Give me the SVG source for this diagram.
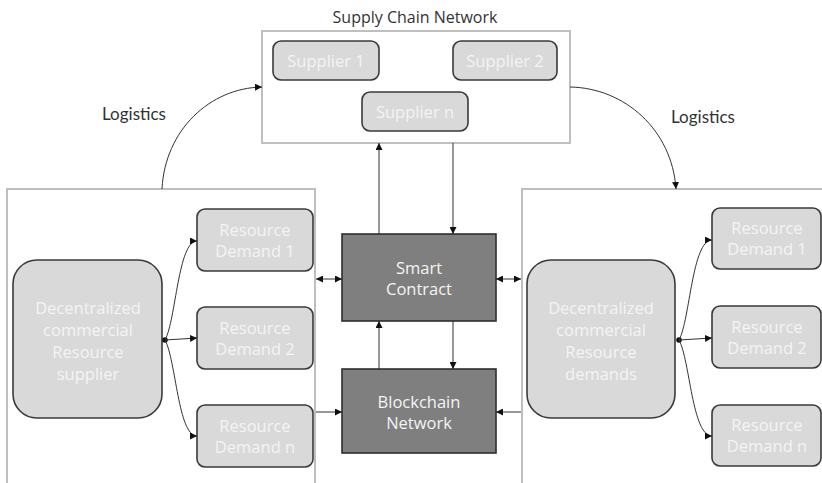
<svg xmlns="http://www.w3.org/2000/svg" width="822" height="483" viewBox="0 0 822 483">
<defs>
<marker id="ah" viewBox="0 0 10 10" refX="10" refY="5" markerWidth="7" markerHeight="7" orient="auto-start-reverse" markerUnits="userSpaceOnUse">
<path d="M0,0 L10,5 L0,10 z" fill="#111"/>
</marker>
<style>
.outer{fill:#fff;stroke:#bfbfbf;stroke-width:2}
.lt{fill:#d9d9d9;stroke:#3a3a3a;stroke-width:1.6}
.dk{fill:#7f7f7f;stroke:#2e2e2e;stroke-width:1.6}
.wt{font-family:"Open Sans","DejaVu Sans",sans-serif;font-size:16.5px;fill:#f4f4f4;text-anchor:middle}
.lbl{font-family:"Open Sans","DejaVu Sans",sans-serif;font-size:16px;fill:#333;text-anchor:middle}
.log{font-family:Lato,"Liberation Sans",sans-serif;font-size:17px;fill:#333;text-anchor:middle}
.cn{fill:none;stroke:#333;stroke-width:1}
</style>
</defs>
<rect width="822" height="483" fill="#fff"/>

<g id="supply-chain-network">
<rect class="outer" x="262" y="31" width="308" height="112"/>
<text class="lbl" x="415" y="23">Supply Chain Network</text>
</g>
<g id="supplier-1"><rect class="lt" x="273" y="41" width="106" height="39" rx="8"/><text class="wt" x="326" y="67">Supplier 1</text></g>
<g id="supplier-2"><rect class="lt" x="453" y="41" width="104" height="39" rx="8"/><text class="wt" x="505" y="67">Supplier 2</text></g>
<g id="supplier-n"><rect class="lt" x="362" y="92" width="106" height="39" rx="8"/><text class="wt" x="415" y="118">Supplier n</text></g>

<g id="left-region"><rect class="outer" x="7" y="189" width="308" height="300"/></g>
<g id="right-region"><rect class="outer" x="522" y="189" width="310" height="300"/></g>

<g id="resource-supplier"><rect class="lt" x="13" y="260" width="149" height="158" rx="24"/>
<text class="wt" x="88" y="314">Decentralized</text>
<text class="wt" x="88" y="336">commercial</text>
<text class="wt" x="88" y="358">Resource</text>
<text class="wt" x="88" y="380">supplier</text></g>

<g id="left-demand-1"><rect class="lt" x="197" y="209" width="116" height="62" rx="8"/><text class="wt" x="255" y="236">Resource</text><text class="wt" x="255" y="257">Demand 1</text></g>
<g id="left-demand-2"><rect class="lt" x="197" y="307" width="116" height="62" rx="8"/><text class="wt" x="255" y="334">Resource</text><text class="wt" x="255" y="355">Demand 2</text></g>
<g id="left-demand-n"><rect class="lt" x="197" y="405" width="116" height="62" rx="8"/><text class="wt" x="255" y="432">Resource</text><text class="wt" x="255" y="453">Demand n</text></g>

<g id="resource-demands"><rect class="lt" x="527" y="260" width="148" height="158" rx="24"/>
<text class="wt" x="601" y="314">Decentralized</text>
<text class="wt" x="601" y="336">commercial</text>
<text class="wt" x="601" y="358">Resource</text>
<text class="wt" x="601" y="380">demands</text></g>

<g id="right-demand-1"><rect class="lt" x="712" y="208" width="109" height="61" rx="8"/><text class="wt" x="767" y="234">Resource</text><text class="wt" x="767" y="255">Demand 1</text></g>
<g id="right-demand-2"><rect class="lt" x="712" y="306" width="109" height="62" rx="8"/><text class="wt" x="767" y="333">Resource</text><text class="wt" x="767" y="354">Demand 2</text></g>
<g id="right-demand-n"><rect class="lt" x="712" y="405" width="109" height="61" rx="8"/><text class="wt" x="767" y="431">Resource</text><text class="wt" x="767" y="452">Demand n</text></g>

<g id="smart-contract"><rect class="dk" x="342" y="234" width="154" height="87"/><text class="wt" x="419" y="274">Smart</text><text class="wt" x="419" y="295">Contract</text></g>
<g id="blockchain-network"><rect class="dk" x="342" y="369" width="154" height="84"/><text class="wt" x="419" y="408">Blockchain</text><text class="wt" x="419" y="429">Network</text></g>

<g id="connectors">
<path class="cn" d="M162,189 C165,130 210,88 262,87" marker-end="url(#ah)"/>
<path class="cn" d="M570,87 C625,88 672,130 676,189" marker-end="url(#ah)"/>
<text class="log" x="134" y="120">Logistics</text>
<text class="log" x="703" y="123">Logistics</text>

<line class="cn" x1="379" y1="234" x2="379" y2="143" marker-end="url(#ah)"/>
<line class="cn" x1="453" y1="143" x2="453" y2="234" marker-end="url(#ah)"/>
<line class="cn" x1="379" y1="369" x2="379" y2="321" marker-end="url(#ah)"/>
<line class="cn" x1="453" y1="321" x2="453" y2="369" marker-end="url(#ah)"/>
<line class="cn" x1="316" y1="279" x2="342" y2="279" marker-start="url(#ah)" marker-end="url(#ah)"/>
<line class="cn" x1="496" y1="279" x2="521" y2="279" marker-start="url(#ah)" marker-end="url(#ah)"/>
<line class="cn" x1="316" y1="412" x2="342" y2="412" marker-end="url(#ah)"/>
<line class="cn" x1="521" y1="412" x2="496" y2="412" marker-end="url(#ah)"/>

<circle cx="165" cy="340" r="2.8" fill="#111"/>
<path class="cn" d="M165,340 C176,320 178,241 197,241" marker-end="url(#ah)"/>
<path class="cn" d="M165,340 L197,338" marker-end="url(#ah)"/>
<path class="cn" d="M165,340 C176,360 178,436 197,436" marker-end="url(#ah)"/>

<circle cx="679" cy="340" r="2.8" fill="#111"/>
<path class="cn" d="M679,340 C690,320 692,240 712,240" marker-end="url(#ah)"/>
<path class="cn" d="M679,340 L712,338" marker-end="url(#ah)"/>
<path class="cn" d="M679,340 C690,360 692,436 712,436" marker-end="url(#ah)"/>
</g>
</svg>
